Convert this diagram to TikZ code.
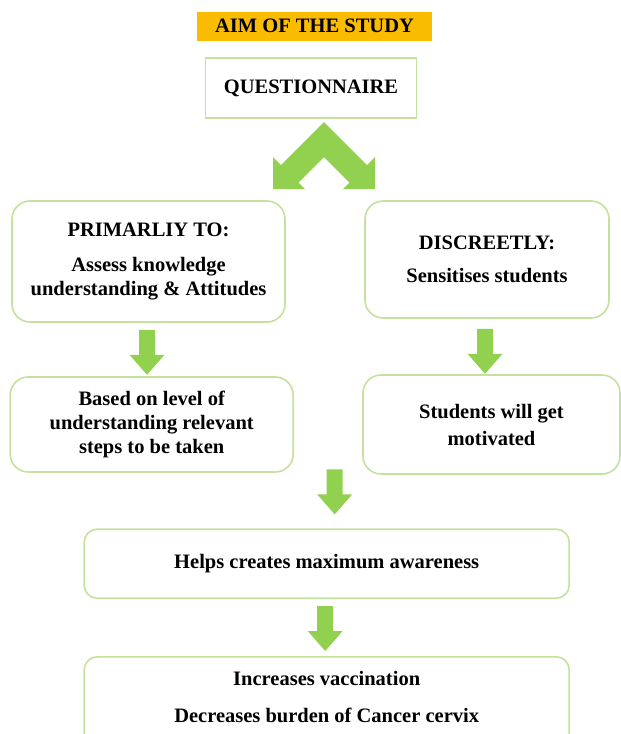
\documentclass[tikz,border=0pt]{standalone}
\usepackage{fontspec}
\setmainfont{Liberation Serif}
\usetikzlibrary{calc}
\definecolor{boxgreen}{RGB}{196,226,158}
\definecolor{arrowgreen}{RGB}{146,208,80}
\definecolor{titlegold}{RGB}{250,188,0}
\begin{document}
\begin{tikzpicture}[x=1pt,y=-1pt,
  txt/.style={font=\fontsize{20.5}{24}\selectfont\bfseries, align=center, text=black},
  box/.style={txt, draw=boxgreen, line width=1.6pt, rounded corners=18pt, inner sep=0pt},
  smallbox/.style={box, rounded corners=13pt},
  dnarrow/.pic={\fill[arrowgreen] (-8,0) -- (8,0) -- (8,25) -- (17.5,25) -- (0,45) -- (-17.5,25) -- (-8,25) -- cycle;}]
\clip (0,0) rectangle (621,734);
\fill[white] (0,0) rectangle (621,734);

% title and questionnaire
\node[txt, fill=titlegold, minimum width=235pt, minimum height=29pt, inner sep=0pt] (aim) at (314.5,26) {AIM OF THE STUDY};
\node[txt, draw=boxgreen, line width=1.6pt, minimum width=211pt, minimum height=60pt, inner sep=0pt] (quest) at (311,88) {QUESTIONNAIRE};

% double chevron arrow
\fill[arrowgreen] (324,122) -- (281,165) -- (273,157) -- (273,189) -- (305,189) -- (298.5,182.5) -- (324,157)
  -- (349.5,182.5) -- (343,189) -- (375,189) -- (375,157) -- (367,165) -- cycle;

% upper boxes
\node[box, minimum width=273pt, minimum height=121pt] (prim) at (148.5,261.5)
  {PRIMARLIY TO:\\[11pt]Assess knowledge\\understanding \& Attitudes};
\node[box, minimum width=244pt, minimum height=117pt] (disc) at (487,259.5)
  {DISCREETLY:\\[9pt]Sensitises students};

% second row
\node[box, minimum width=283pt, minimum height=95pt] (based) at (151.7,424.5)
  {Based on level of\\understanding relevant\\steps to be taken};
\node[box, minimum width=257pt, minimum height=99pt] (stud) at (491.5,424.5)
  {Students will get\\[3pt]motivated};

% lower boxes
\node[smallbox, minimum width=485pt, minimum height=69pt] (helps) at (326.7,563.7)
  {Helps creates maximum awareness};
\node[smallbox, minimum width=485pt, minimum height=110pt, anchor=north] (incr) at (326.7,656) {};
\node[txt] (incrtext) at (326.7,697)
  {Increases vaccination\\[13pt]Decreases burden of Cancer cervix};

% block arrows
\pic at ($(prim.south)+(-1.5,7)$) {dnarrow};
\pic at ($(disc.south)+(-2,10)$) {dnarrow};
\pic at ($(helps.north)+(8,-59)$) {dnarrow};
\pic at ($(helps.south)+(-1.5,7)$) {dnarrow};
\end{tikzpicture}
\end{document}
